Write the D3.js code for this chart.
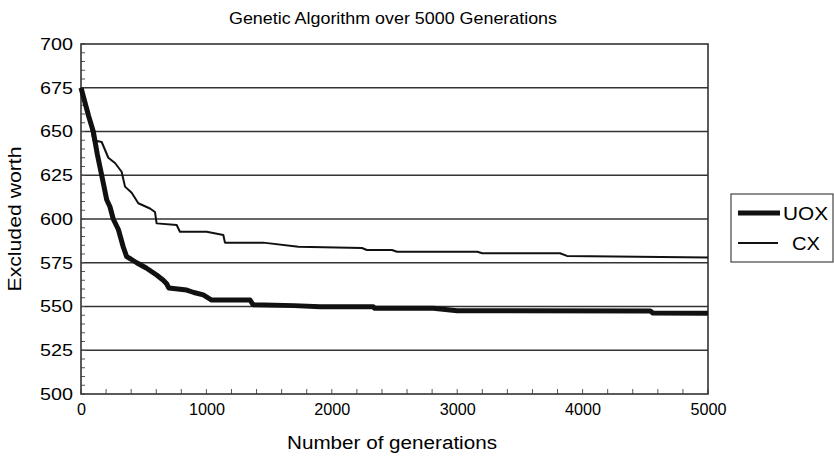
<!DOCTYPE html>
<html><head><meta charset="utf-8">
<script src="https://cdn.jsdelivr.net/npm/d3@7"></script>
<style>body{margin:0;background:#fff}svg{display:block}text{font-family:"Liberation Sans",Arial,sans-serif;fill:#000}</style>
</head><body>
<svg id="chart" width="834" height="456"></svg>
<script>
const chartTitle = "Genetic Algorithm over 5000 Generations";
const xAxisLabel = "Number of generations";
const yAxisLabel = "Excluded worth";
const seriesNames = ["UOX", "CX"];
const xTickValues = [0, 1000, 2000, 3000, 4000, 5000];
const yTickValues = [500, 525, 550, 575, 600, 625, 650, 675, 700];

const uoxGen = [0, 30, 60, 98, 130, 165, 205, 231, 257, 298, 337, 364, 400, 444, 520, 603, 656, 683, 700, 843, 900, 975, 1042, 1348, 1372, 1700, 1906, 2330, 2340, 2810, 3000, 4540, 4560, 5000];
const uoxVal = [675, 667, 659, 650, 637, 625, 611, 607, 600, 594, 584, 578.5, 577, 575, 572, 568, 565, 563, 560.6, 559.4, 558, 556.6, 553.7, 553.7, 551, 550.5, 549.9, 549.9, 549, 549, 547.6, 547.4, 546.3, 546.2];

const cxGen = [0, 30, 58, 98, 165, 218, 271, 324, 351, 404, 457, 550, 590, 603, 763, 789, 1002, 1135, 1148, 1454, 1733, 2240, 2280, 2480, 2520, 3160, 3200, 3820, 3875, 5000];
const cxVal = [675, 668, 662, 645, 644, 635, 632, 627, 618.5, 615, 609, 606, 604, 597.5, 596.6, 592.7, 592.7, 590.9, 586.5, 586.5, 584.2, 583.4, 582.3, 582.3, 581.3, 581.3, 580.4, 580.4, 578.9, 578];

const svg = d3.select("#chart");
const W = 834, H = 456;
const plot = {left: 81, right: 708, top: 44, bottom: 394};

const x = d3.scaleLinear().domain([0, 5000]).range([plot.left, plot.right]);
const y = d3.scaleLinear().domain([500, 700]).range([plot.bottom, plot.top]);

svg.append("rect").attr("width", W).attr("height", H).attr("fill", "#fff");

// gridlines
svg.append("g").selectAll("line").data(yTickValues.slice(1, -1)).join("line")
  .attr("x1", plot.left).attr("x2", plot.right)
  .attr("y1", d => y(d)).attr("y2", d => y(d))
  .attr("stroke", "#333").attr("stroke-width", 1.6);

// minor ticks y (inward)
const yMinor = d3.range(500, 701, 5);
svg.append("g").selectAll("line").data(yMinor).join("line")
  .attr("x1", plot.left).attr("x2", plot.left + 4)
  .attr("y1", d => y(d)).attr("y2", d => y(d))
  .attr("stroke", "#555").attr("stroke-width", 1);
// minor ticks x (inward)
const xMinor = d3.range(0, 5001, 200);
svg.append("g").selectAll("line").data(xMinor).join("line")
  .attr("x1", d => x(d)).attr("x2", d => x(d))
  .attr("y1", plot.bottom).attr("y2", plot.bottom - 5)
  .attr("stroke", "#555").attr("stroke-width", 1);

// plot border
svg.append("rect").attr("x", plot.left).attr("y", plot.top)
  .attr("width", plot.right - plot.left).attr("height", plot.bottom - plot.top)
  .attr("fill", "none").attr("stroke", "#333").attr("stroke-width", 1.6);

// axes (labels via d3 axis)
const yAxis = d3.axisLeft(y).tickValues(yTickValues).tickSize(0).tickPadding(8).tickFormat(d3.format("d"));
const gy = svg.append("g").attr("transform", `translate(${plot.left},0)`).call(yAxis);
gy.select(".domain").remove();
gy.selectAll("text").attr("font-size", 17).attr("font-family", "Liberation Sans, Arial, sans-serif")
  .attr("fill", "#000").attr("textLength", 33).attr("lengthAdjust", "spacingAndGlyphs");

const xAxis = d3.axisBottom(x).tickValues(xTickValues).tickSize(0).tickPadding(9).tickFormat(d3.format("d"));
const gx = svg.append("g").attr("transform", `translate(0,${plot.bottom})`).call(xAxis);
gx.select(".domain").remove();
gx.selectAll("text").attr("font-size", 17).attr("font-family", "Liberation Sans, Arial, sans-serif")
  .attr("fill", "#000").attr("textLength", d => String(d).length * 9).attr("lengthAdjust", "spacingAndGlyphs");

// lines
const line = d3.line().x(d => x(d[0])).y(d => y(d[1])).curve(d3.curveLinear);
const uox = uoxGen.map((g, i) => [g, uoxVal[i]]);
const cx = cxGen.map((g, i) => [g, cxVal[i]]);
svg.append("path").datum(cx).attr("d", line).attr("fill", "none")
  .attr("stroke", "#111").attr("stroke-width", 2).attr("stroke-linejoin", "round");
svg.append("path").datum(uox).attr("d", line).attr("fill", "none")
  .attr("stroke", "#111").attr("stroke-width", 5).attr("stroke-linejoin", "round");

// title & labels
svg.append("text").attr("x", 393).attr("y", 24).attr("text-anchor", "middle")
  .attr("font-size", 17).attr("textLength", 328).attr("lengthAdjust", "spacingAndGlyphs").text(chartTitle);
svg.append("text").attr("x", 392).attr("y", 449).attr("text-anchor", "middle")
  .attr("font-size", 18).attr("textLength", 210).attr("lengthAdjust", "spacingAndGlyphs").text(xAxisLabel);
svg.append("text").attr("transform", "translate(21,219) rotate(-90)").attr("text-anchor", "middle")
  .attr("font-size", 18).attr("textLength", 145).attr("lengthAdjust", "spacingAndGlyphs").text(yAxisLabel);

// legend
const lg = svg.append("g");
lg.append("rect").attr("x", 731).attr("y", 194).attr("width", 102).attr("height", 68)
  .attr("fill", "#fff").attr("stroke", "#444").attr("stroke-width", 1.2);
const legendRows = [
  {name: seriesNames[0], w: 5, y: 213, x2: 780, tx: 783, tl: 45},
  {name: seriesNames[1], w: 1.8, y: 243, x2: 778, tx: 792, tl: 28}
];
legendRows.forEach(r => {
  lg.append("line").attr("x1", 738).attr("x2", r.x2).attr("y1", r.y).attr("y2", r.y)
    .attr("stroke", "#111").attr("stroke-width", r.w);
  lg.append("text").attr("x", r.tx).attr("y", r.y + 6.5).attr("font-size", 18.5)
    .attr("textLength", r.tl).attr("lengthAdjust", "spacingAndGlyphs").text(r.name);
});
</script>
</body></html>
